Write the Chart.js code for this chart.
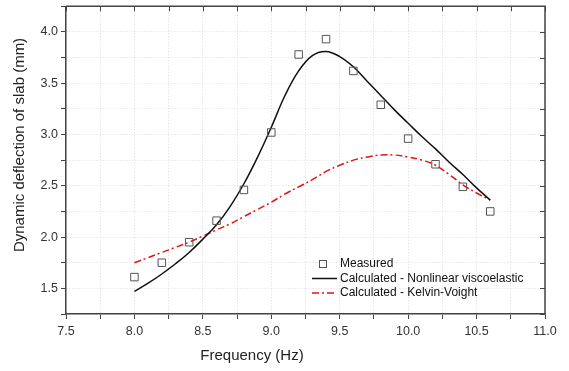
<!DOCTYPE html>
<html>
<head>
<meta charset="utf-8">
<script src="https://cdn.jsdelivr.net/npm/chart.js@4.4.1/dist/chart.umd.min.js"></script>
<style>
html, body { margin: 0; padding: 0; background: #fff; }
#wrap { width: 569px; height: 371px; }
</style>
</head>
<body>
<div id="wrap"><canvas id="chart"></canvas></div>
<script>
const FONT = '"Liberation Sans", Arial, sans-serif';

// measured points
const measuredFreq = [8.0, 8.2, 8.4, 8.6, 8.8, 9.0, 9.2, 9.4, 9.6, 9.8, 10.0, 10.2, 10.4, 10.6];
const measuredDefl = [1.61, 1.75, 1.95, 2.16, 2.46, 3.02, 3.78, 3.93, 3.62, 3.29, 2.96, 2.71, 2.49, 2.25];

// calculated curves
const calcFreq = [8.0, 8.1, 8.2, 8.3, 8.4, 8.5, 8.6, 8.7, 8.8, 8.9, 9.0, 9.1, 9.2, 9.3,
  9.4, 9.5, 9.6, 9.7, 9.8, 9.9, 10.0, 10.1, 10.2, 10.3, 10.4, 10.5, 10.6];
const nonlinearDefl = [1.47, 1.55, 1.64, 1.74, 1.85, 1.98, 2.12, 2.30, 2.52, 2.78, 3.07, 3.38, 3.62, 3.77,
  3.81, 3.76, 3.66, 3.52, 3.38, 3.24, 3.11, 2.98, 2.86, 2.73, 2.61, 2.48, 2.36];
const kelvinDefl = [1.75, 1.80, 1.85, 1.90, 1.95, 2.01, 2.07, 2.13, 2.20, 2.27, 2.34, 2.42, 2.49, 2.56,
  2.64, 2.70, 2.75, 2.78, 2.80, 2.80, 2.78, 2.75, 2.70, 2.61, 2.51, 2.43, 2.36];

// labelled ticks
const xLabels = [7.5, 8.0, 8.5, 9.0, 9.5, 10.0, 10.5, 11.0];
const yLabels = [1.5, 2.0, 2.5, 3.0, 3.5, 4.0];

const legendItems = ["Measured", "Calculated - Nonlinear viscoelastic", "Calculated - Kelvin-Voight"];

function pts(xs, ys) {
  return xs.map((x, i) => ({x, y: ys[i]}));
}

function labelFor(list) {
  return (v) => list.some((t) => Math.abs(t - v) < 1e-6) ? Number(v).toFixed(1) : "";
}

const framePlugin = {
  id: "frame",
  afterDraw(chart) {
    const {ctx, chartArea: a, scales: {x, y}} = chart;
    ctx.save();
    // top + right axes with inward ticks
    ctx.strokeStyle = "#444";
    ctx.lineWidth = 1.5;
    ctx.beginPath();
    ctx.moveTo(a.left, a.top);
    ctx.lineTo(a.right, a.top);
    ctx.lineTo(a.right, a.bottom);
    ctx.stroke();
    ctx.lineWidth = 1;
    ctx.beginPath();
    x.ticks.forEach((t) => {
      const px = Math.round(x.getPixelForValue(t.value)) + 0.5;
      ctx.moveTo(px, a.top);
      ctx.lineTo(px, a.top + 5);
    });
    y.ticks.forEach((t) => {
      const py = Math.round(y.getPixelForValue(t.value)) + 0.5;
      ctx.moveTo(a.right, py);
      ctx.lineTo(a.right - 5, py);
    });
    ctx.stroke();

    // axis titles
    ctx.fillStyle = "#222";
    ctx.font = "15px " + FONT;
    ctx.textAlign = "center";
    ctx.textBaseline = "middle";
    ctx.fillText("Frequency (Hz)", a.left + 186, 356);
    ctx.save();
    ctx.translate(20, 145);
    ctx.rotate(-Math.PI / 2);
    ctx.fillText("Dynamic deflection of slab (mm)", 0, 0);
    ctx.restore();

    // legend
    const lx = 312, ly = 264, step = 14.5;
    ctx.font = "12px " + FONT;
    ctx.textAlign = "left";
    ctx.fillStyle = "#111";
    ctx.strokeStyle = "#555";
    ctx.lineWidth = 1;
    ctx.strokeRect(lx + 7.5, ly - 3.5, 7, 7);
    ctx.strokeStyle = "#111";
    ctx.lineWidth = 1.5;
    ctx.beginPath();
    ctx.moveTo(lx, ly + step);
    ctx.lineTo(lx + 25, ly + step);
    ctx.stroke();
    ctx.strokeStyle = "#e0141b";
    ctx.setLineDash([7, 3, 2, 3]);
    ctx.beginPath();
    ctx.moveTo(lx, ly + 2 * step);
    ctx.lineTo(lx + 25, ly + 2 * step);
    ctx.stroke();
    ctx.setLineDash([]);
    legendItems.forEach((txt, i) => ctx.fillText(txt, lx + 28, ly + i * step));
    ctx.restore();
  }
};

const gridOpts = {
  color: "#dcdcdc",
  lineWidth: 1,
  tickColor: "#444",
  tickLength: 5,
  tickWidth: 1,
  tickBorderDash: []
};

new Chart(document.getElementById("chart"), {
  type: "line",
  data: {
    datasets: [
      {
        label: legendItems[0],
        data: pts(measuredFreq, measuredDefl),
        showLine: false,
        pointStyle: "rect",
        pointRadius: 5.3,
        pointBorderColor: "#555",
        pointBorderWidth: 1,
        pointBackgroundColor: "rgba(0,0,0,0)",
        order: 0
      },
      {
        label: legendItems[1],
        data: pts(calcFreq, nonlinearDefl),
        borderColor: "#111",
        borderWidth: 1.5,
        pointRadius: 0,
        tension: 0.4,
        order: 1
      },
      {
        label: legendItems[2],
        data: pts(calcFreq, kelvinDefl),
        borderColor: "#e0141b",
        borderWidth: 1.5,
        borderDash: [7, 3, 2, 3],
        pointRadius: 0,
        tension: 0.4,
        order: 2
      }
    ]
  },
  options: {
    responsive: true,
    maintainAspectRatio: false,
    animation: false,
    events: [],
    layout: {padding: {left: 0, right: 24, top: 6, bottom: 0}},
    plugins: {legend: {display: false}, tooltip: {enabled: false}},
    scales: {
      x: {
        type: "linear",
        min: 7.5,
        max: 11.0,
        afterFit: (scale) => {
          scale.height = 57;
          scale.paddingLeft = 0;
          scale.paddingRight = 0;
        },
        ticks: {
          stepSize: 0.25,
          autoSkip: false,
          maxRotation: 0,
          padding: 5,
          color: "#333",
          font: {family: FONT, size: 12.5},
          callback: labelFor(xLabels)
        },
        grid: gridOpts,
        border: {color: "#444", width: 1.5, dash: [1, 2]}
      },
      y: {
        type: "linear",
        min: 1.25,
        max: 4.25,
        afterFit: (scale) => {
          scale.width = 66;
          scale.paddingTop = 0;
          scale.paddingBottom = 0;
        },
        ticks: {
          stepSize: 0.25,
          autoSkip: false,
          padding: 3,
          color: "#333",
          font: {family: FONT, size: 12.5},
          callback: labelFor(yLabels)
        },
        grid: gridOpts,
        border: {color: "#444", width: 1.5, dash: [1, 2]}
      }
    }
  },
  plugins: [framePlugin]
});
</script>
</body>
</html>
